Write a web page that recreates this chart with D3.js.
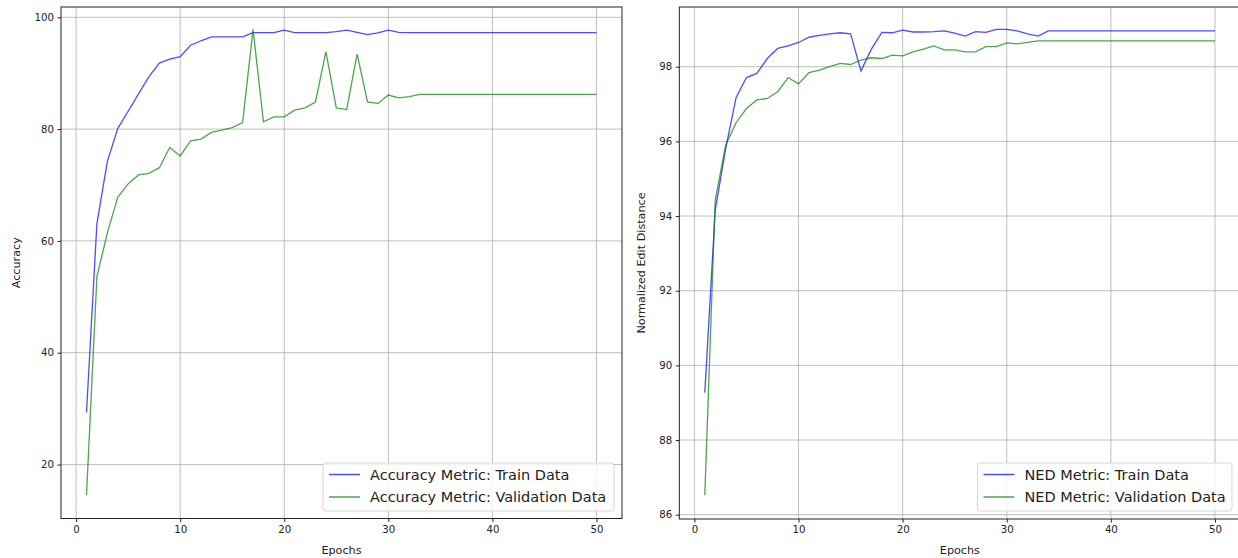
<!DOCTYPE html>
<html>
<head>
<meta charset="utf-8">
<script src="https://cdn.jsdelivr.net/npm/d3@7"></script>
<style>
  body { margin: 0; background: #fff; }
  svg text { font-family: "DejaVu Sans", sans-serif; fill: #222; }
</style>
</head>
<body>
<div id="chart"></div>
<script>
// data, epochs 1..50
const epochs = d3.range(1, 51)

const accTrain = [29.3, 63.1, 74.2, 80.1, 83.2, 86.3, 89.4, 91.8, 92.5, 92.95,
  95.0, 95.8, 96.5, 96.5, 96.5, 96.5, 97.25, 97.25, 97.25, 97.7,
  97.25, 97.25, 97.25, 97.25, 97.45, 97.7, 97.3, 96.9, 97.2, 97.7,
  97.3, 97.25, 97.25, 97.25, 97.25, 97.25, 97.25, 97.25, 97.25, 97.25,
  97.25, 97.25, 97.25, 97.25, 97.25, 97.25, 97.25, 97.25, 97.25, 97.25]
const accVal = [14.55, 53.6, 61.4, 67.8, 70.2, 71.8, 72.1, 73.1, 76.7, 75.2,
  77.9, 78.2, 79.4, 79.8, 80.25, 81.15, 97.85, 81.3, 82.2, 82.2,
  83.4, 83.8, 84.85, 93.85, 83.8, 83.5, 93.4, 84.85, 84.6, 86.1,
  85.6, 85.8, 86.2, 86.2, 86.2, 86.2, 86.2, 86.2, 86.2, 86.2,
  86.2, 86.2, 86.2, 86.2, 86.2, 86.2, 86.2, 86.2, 86.2, 86.2]

const nedTrain = [89.27, 94.16, 95.8, 97.17, 97.71, 97.82, 98.22, 98.49, 98.56, 98.65,
  98.79, 98.84, 98.88, 98.91, 98.88, 97.89, 98.47, 98.92, 98.91, 98.98,
  98.93, 98.93, 98.94, 98.96, 98.9, 98.82, 98.94, 98.92, 99.0, 99.0,
  98.96, 98.88, 98.82, 98.96, 98.96, 98.96, 98.96, 98.96, 98.96, 98.96,
  98.96, 98.96, 98.96, 98.96, 98.96, 98.96, 98.96, 98.96, 98.96, 98.96]
const nedVal = [86.52, 94.43, 95.9, 96.5, 96.88, 97.11, 97.15, 97.33, 97.71, 97.54,
  97.84, 97.91, 98.0, 98.09, 98.06, 98.18, 98.24, 98.22, 98.31, 98.29,
  98.4, 98.47, 98.56, 98.45, 98.45, 98.4, 98.4, 98.54, 98.54, 98.64,
  98.61, 98.65, 98.69, 98.69, 98.69, 98.69, 98.69, 98.69, 98.69, 98.69,
  98.69, 98.69, 98.69, 98.69, 98.69, 98.69, 98.69, 98.69, 98.69, 98.69]

const xTicks = [0, 10, 20, 30, 40, 50]
const accTicks = [20, 40, 60, 80, 100]
const nedTicks = [86, 88, 90, 92, 94, 96, 98]

const width = 1238
const height = 558

const svg = d3.select("#chart")
  .append("svg")
    .attr("width", width)
    .attr("height", height)

function drawPanel(opt) {
  const g = svg.append("g")

  let x = d3.scaleLinear().domain([-1.45, 52.45]).range([opt.left, opt.right])
  let y = d3.scaleLinear().domain(opt.yDomain).range([opt.bottom, opt.top])

  // grid
  g.append("g").selectAll("line").data(xTicks).enter().append("line")
    .attr("x1", d => x(d)).attr("x2", d => x(d))
    .attr("y1", opt.top).attr("y2", opt.bottom)
    .attr("stroke", "#b0b0b0").attr("stroke-width", 1).attr("opacity", 0.8)
  g.append("g").selectAll("line").data(opt.yTicks).enter().append("line")
    .attr("x1", opt.left).attr("x2", opt.right)
    .attr("y1", d => y(d)).attr("y2", d => y(d))
    .attr("stroke", "#b0b0b0").attr("stroke-width", 1).attr("opacity", 0.8)

  const line = d3.line()
    .x((d, i) => x(epochs[i]))
    .y(d => y(d))

  g.append("path").datum(opt.train)
    .attr("fill", "none")
    .attr("stroke", "rgba(0,0,255,0.7)")
    .attr("stroke-width", 1.3)
    .attr("d", line)
  g.append("path").datum(opt.val)
    .attr("fill", "none")
    .attr("stroke", "rgba(0,128,0,0.7)")
    .attr("stroke-width", 1.3)
    .attr("d", line)

  // axes
  const xAxis = d3.axisBottom(x).tickValues(xTicks).tickSize(3.5).tickPadding(3.5)
  const yAxis = d3.axisLeft(y).tickValues(opt.yTicks).tickSize(3.5).tickPadding(3.5)
  const xg = g.append("g").attr("transform", `translate(0, ${opt.bottom})`).call(xAxis)
  const yg = g.append("g").attr("transform", `translate(${opt.left}, 0)`).call(yAxis)
  xg.select(".domain").remove()
  yg.select(".domain").remove()
  g.selectAll(".tick text").attr("font-size", 10.2).attr("font-family", "DejaVu Sans").attr("fill", "#222")
  g.selectAll(".tick line").attr("stroke", "#222")

  g.append("rect")
    .attr("x", opt.left).attr("y", opt.top)
    .attr("width", opt.right - opt.left).attr("height", opt.bottom - opt.top)
    .attr("fill", "none").attr("stroke", "#222").attr("stroke-width", 1)

  g.append("text")
    .attr("x", (opt.left + opt.right) / 2).attr("y", 553.5)
    .attr("text-anchor", "middle").attr("font-size", 11.2)
    .text("Epochs")
  g.append("text")
    .attr("transform", `translate(${opt.ylabelX}, ${(opt.top + opt.bottom) / 2}) rotate(-90)`)
    .attr("text-anchor", "middle").attr("font-size", 11.2)
    .text(opt.ylabel)

  // legend
  const lg = g.append("g").attr("transform", `translate(${opt.legendX}, 463)`)
  lg.append("rect")
    .attr("width", opt.legendW).attr("height", 48)
    .attr("rx", 3)
    .attr("fill", "rgba(255,255,255,0.8)").attr("stroke", "#d5d5d5")
  opt.names.forEach((name, i) => {
    const yy = 11.5 + i * 22.5
    lg.append("line")
      .attr("x1", 6).attr("x2", 37).attr("y1", yy).attr("y2", yy)
      .attr("stroke", i === 0 ? "rgba(0,0,255,0.7)" : "rgba(0,128,0,0.7)")
      .attr("stroke-width", 1.5)
    lg.append("text")
      .attr("x", 47).attr("y", yy + 5.2)
      .attr("font-size", 14.5)
      .text(name)
  })
}

drawPanel({
  left: 61, right: 622, top: 7, bottom: 518.5,
  yDomain: [10.35, 101.84], yTicks: accTicks,
  train: accTrain, val: accVal,
  ylabel: "Accuracy", ylabelX: 19.5,
  legendX: 323, legendW: 291,
  names: ["Accuracy Metric: Train Data", "Accuracy Metric: Validation Data"]
})

drawPanel({
  left: 679.3, right: 1240.5, top: 7, bottom: 519,
  yDomain: [85.885, 99.6], yTicks: nedTicks,
  train: nedTrain, val: nedVal,
  ylabel: "Normalized Edit Distance", ylabelX: 645,
  legendX: 977.5, legendW: 254.5,
  names: ["NED Metric: Train Data", "NED Metric: Validation Data"]
})
</script>
</body>
</html>
